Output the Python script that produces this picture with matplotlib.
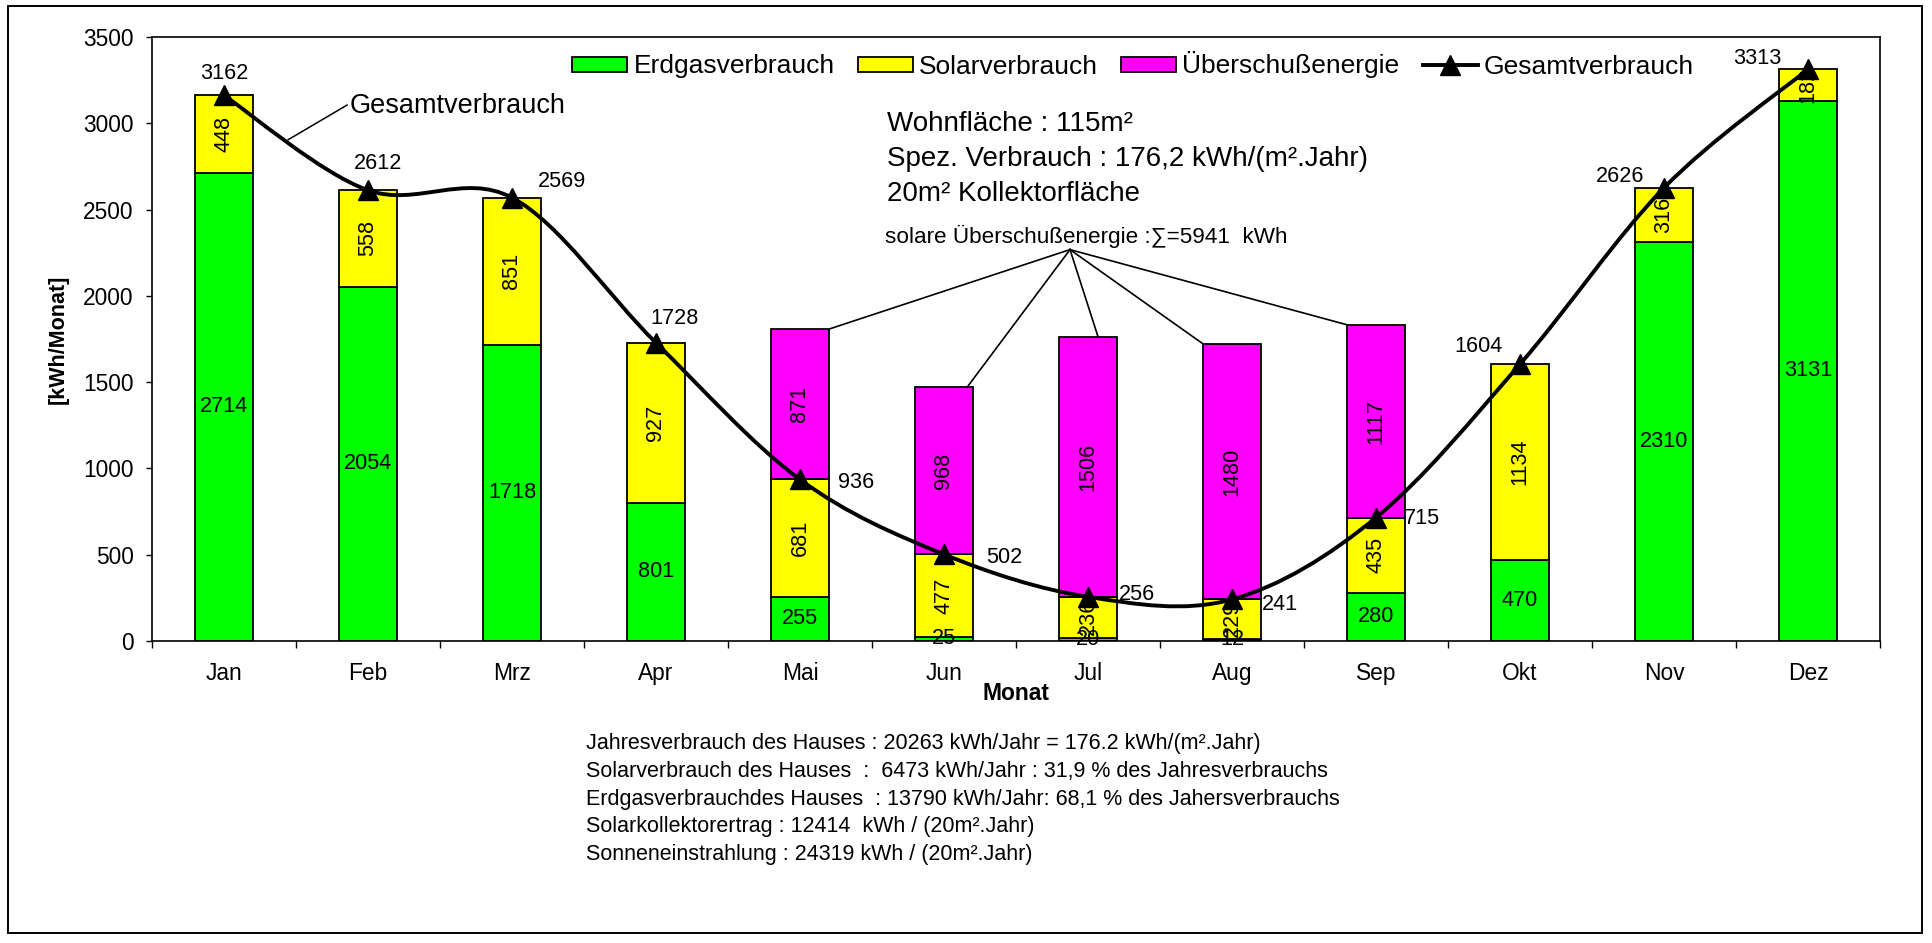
import numpy as np
import matplotlib
matplotlib.use("Agg")
import matplotlib.pyplot as plt
from matplotlib.path import Path
from matplotlib.patches import PathPatch, Rectangle
from matplotlib.lines import Line2D

plt.rcParams['font.family'] = ['Liberation Sans', 'DejaVu Sans']

# Monatswerte in kWh
months = ['Jan', 'Feb', 'Mrz', 'Apr', 'Mai', 'Jun', 'Jul', 'Aug', 'Sep', 'Okt', 'Nov', 'Dez']
erdgas = [2714, 2054, 1718, 801, 255, 25, 20, 12, 280, 470, 2310, 3131]
solar = [448, 558, 851, 927, 681, 477, 236, 229, 435, 1134, 316, 182]
ueberschuss = [0, 0, 0, 0, 871, 968, 1506, 1480, 1117, 0, 0, 0]

info_lines = ['Wohnfläche : 115m²',
              'Spez. Verbrauch : 176,2 kWh/(m².Jahr)',
              '20m² Kollektorfläche']
summary_lines = ['Jahresverbrauch des Hauses : 20263 kWh/Jahr = 176.2 kWh/(m².Jahr)',
                 'Solarverbrauch des Hauses  :  6473 kWh/Jahr : 31,9 % des Jahresverbrauchs',
                 'Erdgasverbrauchdes Hauses  : 13790 kWh/Jahr: 68,1 % des Jahersverbrauchs',
                 'Solarkollektorertrag : 12414  kWh / (20m².Jahr)',
                 'Sonneneinstrahlung : 24319 kWh / (20m².Jahr)']

# label offsets for the total values (pixels)
total_offsets = [(0, 22), (10, 27), (50, 16), (19, 24), (56, -3), (60, -3),
                 (49, 2), (48, -5), (46, -1), (-41, 18), (-44, 11), (-51, 11)]

W, H = 1932, 943
fig = plt.figure(figsize=(W / 100, H / 100), dpi=100)
ax = fig.add_axes([152 / W, 1 - 641 / H, (1880 - 152) / W, (641 - 37) / H])

x = np.arange(len(months))
erdgas = np.array(erdgas)
solar = np.array(solar)
ueberschuss = np.array(ueberschuss)
total = erdgas + solar

bw = 0.4
ekw = dict(edgecolor='black', linewidth=1.3, zorder=2)
b_gas = ax.bar(x, erdgas, bw, color='#00FF00', label='Erdgasverbrauch', **ekw)
b_sol = ax.bar(x, solar, bw, bottom=erdgas, color='#FFFF00', label='Solarverbrauch', **ekw)
m = ueberschuss > 0
b_ub = ax.bar(x[m], ueberschuss[m], bw, bottom=total[m], color='#FF00FF',
              label='Überschußenergie', **ekw)

ax.bar_label(b_gas, label_type='center', fontsize=15.6, zorder=3)
ax.bar_label(b_sol, label_type='center', fontsize=15.6, rotation=90, zorder=3)
ax.bar_label(b_ub, label_type='center', fontsize=15.6, rotation=90, zorder=3)

# smoothed total line (Excel style bezier)
pts = np.column_stack([x, total]).astype(float)
verts = [pts[0]]
codes = [Path.MOVETO]
n = len(pts)
for i in range(n - 1):
    p0 = pts[i - 1] if i > 0 else pts[i]
    p1 = pts[i]
    p2 = pts[i + 1]
    p3 = pts[i + 2] if i + 2 < n else pts[i + 1]
    verts += [p1 + (p2 - p0) / 6, p2 - (p3 - p1) / 6, p2]
    codes += [Path.CURVE4] * 3
ax.add_patch(PathPatch(Path(verts, codes), facecolor='none', edgecolor='black',
                       linewidth=2.8, zorder=5))
ax.plot(x, total, linestyle='none', marker='^', markersize=15, color='black', zorder=6)

for xi, t, (dx, dy) in zip(x, total, total_offsets):
    ax.annotate(str(t), (xi, t), xytext=(dx, dy), textcoords='offset pixels',
                ha='center', va='center', fontsize=15.6, zorder=7)

# annotations
ax.annotate('Gesamtverbrauch', xy=(0.444, 2904), xytext=(0.875, 3060),
            fontsize=19.5, ha='left', va='baseline',
            arrowprops=dict(arrowstyle='-', color='black', lw=1.1,
                            shrinkA=0, shrinkB=0, relpos=(0, 0.6)), zorder=7)

for k, line in enumerate(info_lines):
    fig.text(887 / W, 1 - (131 + 35 * k) / H, line, fontsize=20, ha='left', va='baseline')

fig.text(885 / W, 1 - 243 / H, 'solare Überschußenergie :∑=5941  kWh',
         fontsize=16.2, ha='left', va='baseline')
src = (5.875, 2268)
lead_dx = {4: 0.2, 5: 0.16, 6: 0.07, 7: -0.2, 8: -0.2}
for i, dx in lead_dx.items():
    top = total[i] + ueberschuss[i]
    ax.plot([src[0], i + dx], [src[1], top], color='black', lw=1.2, zorder=4)

for k, line in enumerate(summary_lines):
    fig.text(586 / W, 1 - (749 + 27.8 * k) / H, line, fontsize=15.5, ha='left', va='baseline')

# axes styling
ax.set_xlim(-0.5, 11.5)
ax.set_ylim(0, 3500)
ax.set_yticks(np.arange(0, 3501, 500))
ax.set_xticks(x)
ax.set_xticklabels(months)
ax.set_xticks(np.arange(-0.5, 12, 1), minor=True)
ax.tick_params(axis='x', which='major', length=0, pad=15, labelsize=16.4)
ax.tick_params(axis='x', which='minor', length=5, width=1, direction='out')
ax.tick_params(axis='y', length=4.3, width=1, pad=9, labelsize=16.4)
for s in ax.spines.values():
    s.set_linewidth(1.2)

ax.set_xlabel('Monat', fontsize=16.5, fontweight='bold')
ax.xaxis.set_label_coords(0.5, -(694 - 641) / 604)
ax.xaxis.label.set_verticalalignment('center')
ax.set_ylabel('[kWh/Monat]', fontsize=15.5, fontweight='bold')
ax.yaxis.set_label_coords(-(152 - 58) / 1728, 0.5)
ax.yaxis.label.set_verticalalignment('center')

line_handle = Line2D([], [], color='black', lw=2.8, marker='^', markersize=15)
fig.legend([b_gas, b_sol, b_ub, line_handle],
           ['Erdgasverbrauch', 'Solarverbrauch', 'Überschußenergie', 'Gesamtverbrauch'],
           loc='center left', bbox_to_anchor=(572 / W, 1 - 65 / H), ncol=4, frameon=False,
           fontsize=19, handlelength=2.1, handleheight=0.5, handletextpad=0.23,
           columnspacing=0.87, borderpad=0, borderaxespad=0)

# outer frame
fig.patches.append(Rectangle((8 / W, 1 - 933 / H), (1922 - 8) / W, (933 - 6) / H,
                             transform=fig.transFigure, fill=False, edgecolor='black',
                             linewidth=1.4))

fig.savefig('out.png', dpi=100)
